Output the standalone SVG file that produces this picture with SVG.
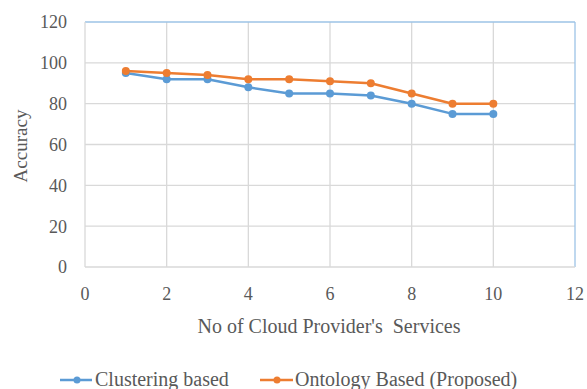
<svg xmlns="http://www.w3.org/2000/svg" width="587" height="389" viewBox="0 0 587 389">
<style>
.grid{stroke:#d9d9d9;stroke-width:1.3;fill:none}
.frame{stroke:#9dc3e6;stroke-width:1.3;fill:none}
.t{font-family:"Liberation Serif","Times New Roman",serif;fill:#595959}
.tick{font-size:18px}
.title{font-size:20px}
.blue{stroke:#5b9bd5;stroke-width:2.5;fill:none;stroke-linejoin:round}
.orange{stroke:#ed7d31;stroke-width:2.5;fill:none;stroke-linejoin:round}
.mb{fill:#5b9bd5}
.mo{fill:#ed7d31}
</style>
<rect width="587" height="389" fill="#ffffff"/>
<g id="grid">
<line class="grid" x1="85" y1="226.17" x2="575" y2="226.17"/>
<line class="grid" x1="85" y1="185.33" x2="575" y2="185.33"/>
<line class="grid" x1="85" y1="144.5" x2="575" y2="144.5"/>
<line class="grid" x1="85" y1="103.67" x2="575" y2="103.67"/>
<line class="grid" x1="85" y1="62.83" x2="575" y2="62.83"/>
<line class="grid" x1="166.67" y1="22" x2="166.67" y2="267"/>
<line class="grid" x1="248.33" y1="22" x2="248.33" y2="267"/>
<line class="grid" x1="330" y1="22" x2="330" y2="267"/>
<line class="grid" x1="411.67" y1="22" x2="411.67" y2="267"/>
<line class="grid" x1="493.33" y1="22" x2="493.33" y2="267"/>
<line class="frame" x1="85" y1="22" x2="575" y2="22"/>
<line class="frame" x1="575" y1="22" x2="575" y2="267"/>
<line class="grid" x1="85" y1="22" x2="85" y2="267"/>
<line class="grid" x1="85" y1="267" x2="575" y2="267"/>
</g>
<g id="y-ticks" class="t tick" text-anchor="end">
<text x="67" y="28">120</text>
<text x="67" y="69">100</text>
<text x="67" y="110">80</text>
<text x="67" y="151">60</text>
<text x="67" y="191.5">40</text>
<text x="67" y="232.5">20</text>
<text x="67" y="273">0</text>
</g>
<g id="x-ticks" class="t tick" text-anchor="middle">
<text x="85" y="300">0</text>
<text x="166.67" y="300">2</text>
<text x="248.33" y="300">4</text>
<text x="330" y="300">6</text>
<text x="411.67" y="300">8</text>
<text x="493.33" y="300">10</text>
<text x="575" y="300">12</text>
</g>
<g id="axis-titles" class="t title">
<text x="329" y="333" text-anchor="middle" xml:space="preserve" style="white-space:pre">No of Cloud Provider's  Services</text>
<text transform="translate(27,146) rotate(-90)" text-anchor="middle" style="font-size:19px">Accuracy</text>
</g>
<g id="connectors">
<polyline class="blue" points="125.83,73.04 166.67,79.17 207.5,79.17 248.33,87.33 289.17,93.46 330,93.46 370.83,95.5 411.67,103.67 452.5,113.88 493.33,113.88"/>
<polyline class="orange" points="125.83,71 166.67,73.04 207.5,75.08 248.33,79.17 289.17,79.17 330,81.21 370.83,83.25 411.67,93.46 452.5,103.67 493.33,103.67"/>
</g>
<g id="series-clustering" class="mb">
<circle cx="125.83" cy="73.04" r="4"/>
<circle cx="166.67" cy="79.17" r="4"/>
<circle cx="207.5" cy="79.17" r="4"/>
<circle cx="248.33" cy="87.33" r="4"/>
<circle cx="289.17" cy="93.46" r="4"/>
<circle cx="330" cy="93.46" r="4"/>
<circle cx="370.83" cy="95.5" r="4"/>
<circle cx="411.67" cy="103.67" r="4"/>
<circle cx="452.5" cy="113.88" r="4"/>
<circle cx="493.33" cy="113.88" r="4"/>
</g>
<g id="series-ontology" class="mo">
<circle cx="125.83" cy="71" r="4"/>
<circle cx="166.67" cy="73.04" r="4"/>
<circle cx="207.5" cy="75.08" r="4"/>
<circle cx="248.33" cy="79.17" r="4"/>
<circle cx="289.17" cy="79.17" r="4"/>
<circle cx="330" cy="81.21" r="4"/>
<circle cx="370.83" cy="83.25" r="4"/>
<circle cx="411.67" cy="93.46" r="4"/>
<circle cx="452.5" cy="103.67" r="4"/>
<circle cx="493.33" cy="103.67" r="4"/>
</g>
<g id="legend">
<line class="blue" x1="60" y1="380" x2="92" y2="380"/>
<circle class="mb" cx="77" cy="380" r="3.5"/>
<text class="t title" x="95" y="386">Clustering based</text>
<line class="orange" x1="260" y1="380" x2="293" y2="380"/>
<circle class="mo" cx="277" cy="380" r="3.5"/>
<text class="t title" x="295" y="386">Ontology Based (Proposed)</text>
</g>
</svg>
